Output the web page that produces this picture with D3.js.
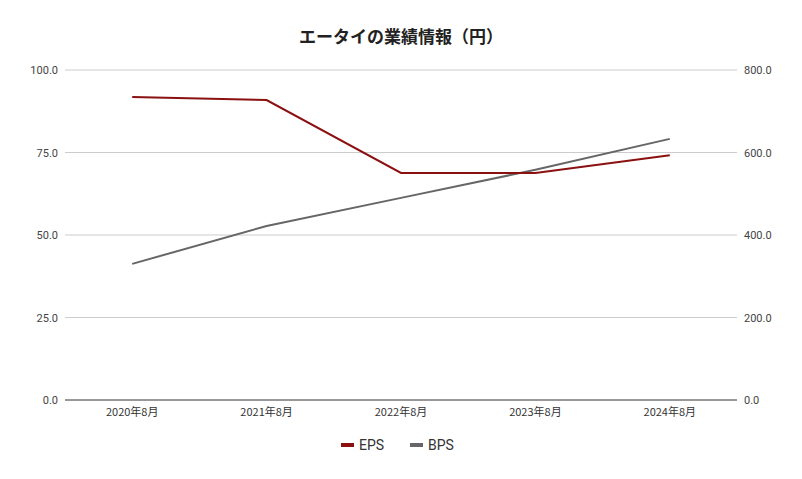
<!DOCTYPE html>
<html><head><meta charset="utf-8">
<script src="https://cdn.jsdelivr.net/npm/d3@7"></script>
<style>body{margin:0;background:#fff;font-family:"Noto Sans CJK JP",Roboto,sans-serif}</style>
</head><body><div id="chart"></div>
<script>
var categories = ["2020年8月","2021年8月","2022年8月","2023年8月","2024年8月"]
var eps = [91.8, 90.9, 68.8, 68.8, 74.2]
var bps = [330, 422, 490, 558, 633]
var leftTicks = [0, 25, 50, 75, 100]
var rightTicks = [0, 200, 400, 600, 800]

var width = 802, height = 479
var margin = {top: 70, right: 65, bottom: 79, left: 65}

var svg = d3.select("#chart").append("svg").attr("width", width).attr("height", height)

var x = d3.scalePoint().domain(categories).range([margin.left, width - margin.right]).padding(0.5)
var yL = d3.scaleLinear().domain([0, 100]).range([height - margin.bottom, margin.top])
var yR = d3.scaleLinear().domain([0, 800]).range([height - margin.bottom, margin.top])

//* grid
svg.selectAll(".grid").data(leftTicks).enter().append("line")
  .attr("x1", margin.left).attr("x2", width - margin.right)
  .attr("y1", function(d){ return yL(d) }).attr("y2", function(d){ return yL(d) })
  .attr("stroke", function(d){ return d == 0 ? "#333" : "#ccc" }).attr("stroke-width", 1)

var tf = d3.format(".1f")
svg.selectAll(".lt").data(leftTicks).enter().append("text")
  .attr("x", 58).attr("y", function(d){ return yL(d) + 4 })
  .attr("text-anchor", "end").attr("font-size", 11).attr("fill", "#444")
  .attr("font-family", "Roboto, sans-serif").text(function(d){ return tf(d) })
svg.selectAll(".rt").data(rightTicks).enter().append("text")
  .attr("x", 744).attr("y", function(d){ return yR(d) + 4 })
  .attr("font-size", 11).attr("fill", "#444")
  .attr("font-family", "Roboto, sans-serif").text(function(d){ return tf(d) })
svg.selectAll(".xt").data(categories).enter().append("text")
  .attr("x", function(d){ return x(d) }).attr("y", 416)
  .attr("text-anchor", "middle").attr("font-size", 11).attr("fill", "#333")
  .text(function(d){ return d })

//* lines
var lineL = d3.line().x(function(d, i){ return x(categories[i]) }).y(function(d){ return yL(d) })
var lineR = d3.line().x(function(d, i){ return x(categories[i]) }).y(function(d){ return yR(d) })
svg.append("path").attr("d", lineR(bps)).attr("fill", "none").attr("stroke", "#666").attr("stroke-width", 2)
svg.append("path").attr("d", lineL(eps)).attr("fill", "none").attr("stroke", "#8b1010").attr("stroke-width", 2)

//* title
svg.append("text").attr("x", width / 2).attr("y", 43).attr("text-anchor", "middle")
  .attr("font-size", 17).attr("font-weight", "bold").attr("fill", "#222").text("エータイの業績情報（円）")

//* legend
var legend = [{name: "EPS", color: "#8b1010", x: 341}, {name: "BPS", color: "#666", x: 410}]
legend.forEach(function(l){
  svg.append("line").attr("x1", l.x).attr("x2", l.x + 13).attr("y1", 445).attr("y2", 445)
    .attr("stroke", l.color).attr("stroke-width", 4)
  svg.append("text").attr("x", l.x + 18).attr("y", 450).attr("font-size", 14).attr("fill", "#333")
    .attr("font-family", "Roboto, sans-serif").text(l.name)
})
</script></body></html>
